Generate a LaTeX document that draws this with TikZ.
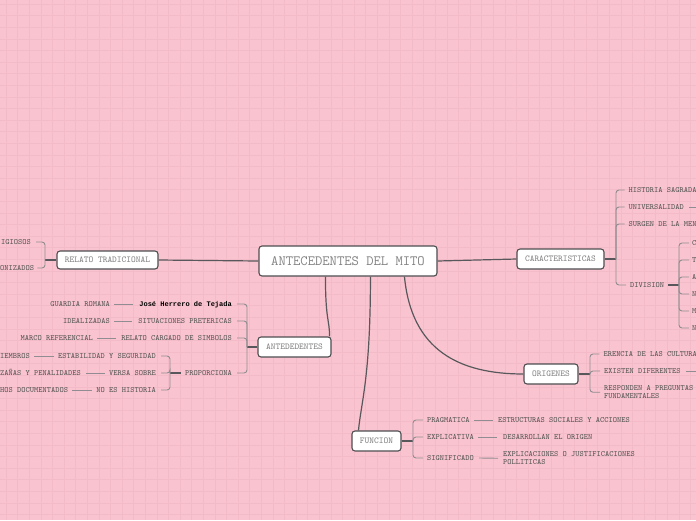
\documentclass[tikz,border=0pt]{standalone}
\usepackage{fontspec}
\newfontfamily\monob{Liberation Mono}
\usetikzlibrary{calc}
\definecolor{bg}{RGB}{249,196,207}
\definecolor{gridc}{RGB}{243,187,200}
\definecolor{boxborder}{RGB}{78,78,82}
\definecolor{boxtext}{RGB}{130,130,130}
\definecolor{leaftext}{RGB}{85,85,85}
\definecolor{linkc}{RGB}{88,88,92}
\definecolor{brkc}{RGB}{145,140,145}
\begin{document}
\begin{tikzpicture}[x=1pt,y=-1pt,
  box/.style={draw=boxborder,fill=white,rounded corners=3pt,line width=1.1pt,text=boxtext,
    font=\ttfamily\fontsize{9}{10}\selectfont,inner sep=0pt,minimum height=20pt},
  leaf/.style={text=leaftext,font=\ttfamily\fontsize{8}{8}\selectfont,inner sep=0pt,text height=4.9pt,text depth=0pt},
  leafm/.style={text=leaftext,font=\ttfamily\fontsize{8}{8}\selectfont,inner sep=0pt,align=left,anchor=north west},
  lk/.style={draw=linkc,line width=1.2pt},
  brk/.style={draw=brkc,line width=0.9pt,rounded corners=3pt},
  pl/.style={draw=brkc,line width=0.9pt}]
\clip (0,0) rectangle (696,520);
\fill[bg] (0,0) rectangle (696,520);
\foreach \i in {0,...,60} \draw[gridc,line width=0.5pt] (\i*11.6+6,0) -- (\i*11.6+6,520);
\foreach \i in {0,...,45} \draw[gridc,line width=0.5pt] (0,\i*11.6+4) -- (696,\i*11.6+4);

% main boxes
\node[box,minimum width=178pt,minimum height=30pt,font=\ttfamily\fontsize{14.2}{16}\selectfont] (mito) at (348,261) {ANTECEDENTES DEL MITO};
\node[box,minimum width=101pt,minimum height=18pt] (rt) at (107.5,260) {RELATO TRADICIONAL};
\node[box,minimum width=73pt] (ant) at (294.5,347) {ANTEDEDENTES};
\node[box,minimum width=87pt] (car) at (560.5,259) {CARACTERISTICAS};
\node[box,minimum width=54pt] (orig) at (551,374) {ORIGENES};
\node[box,minimum width=49pt] (fun) at (376.5,441) {FUNCION};

% main connectors
\draw[lk] (rt.east) -- (mito.west);
\draw[lk] (mito.east) -- (car.west);
\draw[lk] ($(mito.south west)+(67,0)$) .. controls ($(mito.south west)+(67,44)$) and ($(ant.north east)+(-2,-17)$) .. ($(ant.north east)+(-2,0)$);
\draw[lk] ($(mito.south west)+(112,0)$) .. controls ($(mito.south west)+(112,100)$) and ($(fun.north west)+(10,-30)$) .. ($(fun.north west)+(7,0)$);
\draw[lk] ($(mito.south west)+(146,0)$) .. controls ($(mito.south west)+(153,74)$) and ($(orig.west)+(-64,0)$) .. (orig.west);

% RELATO TRADICIONAL
\coordinate (jR) at (45,260);
\node[leaf,anchor=east] (r1) at (31,242) {IGIOSOS};
\node[leaf,anchor=west] (r2) at (0,268) {ONIZADOS};
\draw[lk] (rt.west) -- (jR);
\draw[brk] (jR) |- ($(r1.east)+(5,0)$);
\draw[brk] (jR) |- ($(r2.east)+(3,0)$);

% ANTEDEDENTES
\coordinate (jA) at (247,347);
\node[leaf,anchor=east,text=black,font=\monob\bfseries\fontsize{7}{8}\selectfont] (a1) at (232,304) {José Herrero de Tejada};
\node[leaf,anchor=east] (a2) at (232,321) {SITUACIONES PRETERICAS};
\node[leaf,anchor=east] (a3) at (232,338) {RELATO CARGADO DE SIMBOLOS};
\node[leaf,anchor=east] (a4) at (232,373) {PROPORCIONA};
\node[leaf,anchor=east] (a1a) at (110,304) {GUARDIA ROMANA};
\node[leaf,anchor=east] (a2a) at (110,321) {IDEALIZADAS};
\node[leaf,anchor=east] (a3a) at (93,338) {MARCO REFERENCIAL};
\draw[lk] (ant.west) -- (jA);
\foreach \n in {a1,a2,a3,a4} \draw[brk] (jA) |- ($(\n.east)+(5,0)$);
\draw[pl] ($(a1a.east)+(4,0)$) -- ($(a1.west)+(-6,0)$);
\draw[pl] ($(a2a.east)+(4,0)$) -- ($(a2.west)+(-6,0)$);
\draw[pl] ($(a3a.east)+(4,0)$) -- ($(a3.west)+(-5,0)$);

\coordinate (jP) at (170,373);
\node[leaf,anchor=east] (p1) at (156,356) {ESTABILIDAD Y SEGURIDAD};
\node[leaf,anchor=east] (p2) at (156,373) {VERSA SOBRE};
\node[leaf,anchor=east] (p3) at (156,390) {NO ES HISTORIA};
\node[leaf,anchor=west] (p1a) at (0,356) {IEMBROS};
\node[leaf,anchor=west] (p2a) at (0,373) {ZAÑAS Y PENALIDADES};
\node[leaf,anchor=west] (p3a) at (0,390) {HOS DOCUMENTADOS};
\draw[lk] ($(a4.west)+(-4,0)$) -- (jP);
\foreach \n in {p1,p2,p3} \draw[brk] (jP) |- ($(\n.east)+(5,0)$);
\draw[pl] ($(p1a.east)+(4,0)$) -- ($(p1.west)+(-4,0)$);
\draw[pl] ($(p2a.east)+(5,0)$) -- ($(p2.west)+(-4,0)$);
\draw[pl] ($(p3a.east)+(4,0)$) -- ($(p3.west)+(-4,0)$);

% CARACTERISTICAS
\coordinate (jC) at (616,259);
\node[leaf,anchor=west] (c1) at (628.5,190) {HISTORIA SAGRADA};
\node[leaf,anchor=west] (c2) at (628.5,207) {UNIVERSALIDAD};
\node[leaf,anchor=west] (c3) at (628.5,224) {SURGEN DE LA MEN};
\node[leaf,anchor=west] (c4) at (630,285) {DIVISION};
\draw[lk] (car.east) -- (jC);
\foreach \n in {c1,c2,c3,c4} \draw[brk] (jC) |- ($(\n.west)+(-4,0)$);
\coordinate (u1) at (702,207);
\draw[pl] ($(c2.east)+(5,0)$) -- (u1);

\coordinate (jD) at (679,285);
\node[leaf,anchor=west] (d1) at (692,243) {C};
\node[leaf,anchor=west] (d2) at (692,260) {T};
\node[leaf,anchor=west] (d3) at (692,277) {A};
\node[leaf,anchor=west] (d4) at (692,294) {N};
\node[leaf,anchor=west] (d5) at (692,311) {M};
\node[leaf,anchor=west] (d6) at (692,328) {N};
\draw[lk] ($(c4.east)+(4,0)$) -- (jD);
\foreach \n in {d1,d2,d3,d4,d5,d6} \draw[brk] (jD) |- ($(\n.west)+(-3,0)$);

% ORIGENES
\coordinate (jO) at (590,374);
\node[leaf,anchor=west] (o1) at (603.3,354) {ERENCIA DE LAS CULTURA};
\node[leaf,anchor=west] (o2) at (604,371) {EXISTEN DIFERENTES};
\node[leafm] (o3) at (604,385.5) {RESPONDEN A PREGUNTAS\\FUNDAMENTALES};
\draw[lk] (orig.east) -- (jO);
\foreach \n in {o1,o2,o3} \draw[brk] (jO) |- ($(\n.west)+(-4,0)$);
\coordinate (u2) at (702,371);
\draw[pl] ($(o2.east)+(5,0)$) -- (u2);

% FUNCION
\coordinate (jF) at (413,441);
\node[leaf,anchor=west] (f1) at (427,420) {PRAGMATICA};
\node[leaf,anchor=west] (f2) at (427,437) {EXPLICATIVA};
\node[leaf,anchor=west] (f3) at (427,458) {SIGNIFICADO};
\node[leaf,anchor=west] (f1a) at (498,420) {ESTRUCTURAS SOCIALES Y ACCIONES};
\node[leaf,anchor=west] (f2a) at (503,437) {DESARROLLAN EL ORIGEN};
\node[leafm] (f3a) at (503,451.5) {EXPLICACIONES O JUSTIFICACIONES\\POLLITICAS};
\draw[lk] (fun.east) -- (jF);
\foreach \n in {f1,f2,f3} \draw[brk] (jF) |- ($(\n.west)+(-4,0)$);
\draw[pl] ($(f1.east)+(4,0)$) -- ($(f1a.west)+(-5,0)$);
\draw[pl] ($(f2.east)+(4,0)$) -- ($(f2a.west)+(-6,0)$);
\draw[pl] ($(f3.east)+(5,0)$) -- ($(f3a.west)+(-5,0)$);
\end{tikzpicture}
\end{document}
